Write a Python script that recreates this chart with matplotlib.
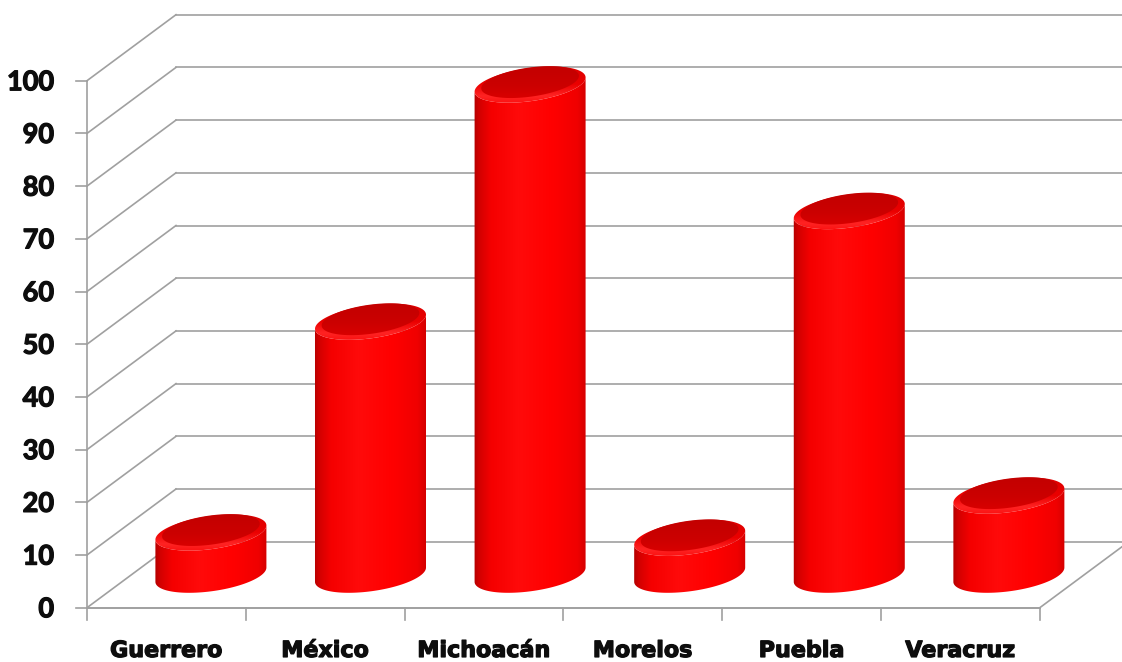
import numpy as np
import matplotlib
matplotlib.use("Agg")
import matplotlib.pyplot as plt
import matplotlib.patheffects as pe
from matplotlib.patches import Polygon
from matplotlib.colors import LinearSegmentedColormap

# data
states = ["Guerrero", "México", "Michoacán", "Morelos", "Puebla", "Veracruz"]
values = [8, 48, 93, 7, 69, 15]
y_ticks = [0, 10, 20, 30, 40, 50, 60, 70, 80, 90, 100]

# figure geometry (pixels), used to build the pseudo 3D frame
W, H = 1122, 662
PX_CAT = 158.8          # pixels per category
PX_VAL = 5.27           # pixels per value unit
AXIS_X = 87             # front value axis, pixels from left
ZERO_Y = 607.7          # value 0, pixels from top
DEPTH_X = 89 / PX_CAT   # depth offset of back wall, in data units
DEPTH_Y = 66 / PX_VAL

GRID = "#a0a0a0"
TEXT = "#0d0d0d"
bold_fx = [pe.withStroke(linewidth=0.9, foreground=TEXT)]

fig = plt.figure(figsize=(W / 100, H / 100), dpi=100)
ax = fig.add_axes([0, 0, 1, 1])
ax.axis("off")

x_left = -0.5 - AXIS_X / PX_CAT
x_right = -0.5 + (W - AXIS_X) / PX_CAT
y_bottom = -(H - ZERO_Y) / PX_VAL
y_top = ZERO_Y / PX_VAL

n = len(states)
x0, x1 = -0.5, n - 0.5

# 1. walls and gridlines
for v in y_ticks:
    ax.plot([x0, x0 + DEPTH_X], [v, v + DEPTH_Y], color=GRID, lw=1.2, zorder=1)
    ax.plot([x0 + DEPTH_X, x1 + DEPTH_X + 1], [v + DEPTH_Y, v + DEPTH_Y],
            color=GRID, lw=1.2, zorder=1)
    ax.plot([x0 - 11 / PX_CAT, x0], [v, v], color=GRID, lw=1.2, zorder=1)
    ax.text(x0 - 33 / PX_CAT, v - 0.3, str(v), ha="right", va="center",
            fontsize=19.5, fontweight="bold", family=["Lato", "DejaVu Sans"],
            color=TEXT, path_effects=bold_fx)

ax.plot([x0, x0], [0, y_ticks[-1]], color=GRID, lw=1.2, zorder=1)
ax.plot([x0, x1], [0, 0], color=GRID, lw=1.4, zorder=1)
ax.plot([x1, x1 + DEPTH_X * 1.5], [0, DEPTH_Y * 1.5], color=GRID, lw=1.2, zorder=1)
for k in range(n + 1):
    ax.plot([x0 + k, x0 + k], [0, -12 / PX_VAL], color=GRID, lw=1.2, zorder=1)

for i, name in enumerate(states):
    ax.text(i, -9.35, name, ha="center", va="baseline", fontsize=16,
            fontweight="bold", family="DejaVu Sans", color=TEXT,
            path_effects=bold_fx)

# 2. cylinders
side_cmap = LinearSegmentedColormap.from_list("side", [
    (0.0, (0.68, 0.0, 0.0)),
    (0.05, (0.82, 0.0, 0.0)),
    (0.16, (0.96, 0.0, 0.0)),
    (0.40, (1.0, 0.04, 0.04)),
    (0.70, (1.0, 0.0, 0.0)),
    (0.92, (0.94, 0.0, 0.0)),
    (1.0, (0.82, 0.0, 0.0)),
])
rim_cmap = LinearSegmentedColormap.from_list("rim", [
    (0.0, (0.98, 0.05, 0.05)),
    (0.22, (1.0, 0.14, 0.14)),
    (0.5, (0.92, 0.0, 0.0)),
    (1.0, (0.86, 0.0, 0.0)),
])
cap_cmap = LinearSegmentedColormap.from_list("cap", [
    (0.0, (0.88, 0.0, 0.0)),
    (0.45, (0.80, 0.0, 0.0)),
    (1.0, (0.76, 0.0, 0.0)),
])

A, B = 56.0, 16.5                     # ellipse half axes, pixels
THETA = np.deg2rad(8)
PHI = np.arctan2(B * np.sin(THETA), A * np.cos(THETA))


def ellipse_pts(cx, cy, t, scale=1.0, lift=0.0):
    a, b = A * scale, B * scale
    dx = a * np.cos(t) * np.cos(THETA) - b * np.sin(t) * np.sin(THETA)
    dy = a * np.cos(t) * np.sin(THETA) + b * np.sin(t) * np.cos(THETA) + lift
    return np.column_stack([cx + dx / PX_CAT, cy + dy / PX_VAL])


def gradient_fill(poly, cmap, extent, horizontal=True, z=3):
    ax.add_patch(poly)
    grad = np.linspace(0, 1, 256)
    img = grad[None, :] if horizontal else grad[:, None]
    im = ax.imshow(img, cmap=cmap, extent=extent, origin="lower",
                   aspect="auto", interpolation="bicubic", zorder=z)
    im.set_clip_path(poly)


front = np.linspace(np.pi - PHI, 2 * np.pi - PHI, 120)
full = np.linspace(0, 2 * np.pi, 200)

for i, v in enumerate(values):
    cx = i + 0.5 * DEPTH_X + 0.005 * i
    base = 0.5 * DEPTH_Y
    top = base + v

    bottom_arc = ellipse_pts(cx, base, front)
    top_arc = ellipse_pts(cx, top, front)[::-1]
    side = Polygon(np.vstack([bottom_arc, top_arc]), closed=True,
                   facecolor="none", edgecolor="none", zorder=3)
    rx = (A + 1) / PX_CAT
    gradient_fill(side, side_cmap,
                  [cx - rx, cx + rx, base - 25 / PX_VAL, top + 25 / PX_VAL])

    outer = Polygon(ellipse_pts(cx, top, full), closed=True,
                    facecolor="none", edgecolor="none", zorder=4)
    ry = (B + 4) / PX_VAL
    gradient_fill(outer, rim_cmap, [cx - rx, cx + rx, top - ry, top + ry],
                  horizontal=False, z=4)

    inner = Polygon(ellipse_pts(cx, top, full, scale=0.88, lift=2.5), closed=True,
                    facecolor="none", edgecolor="none", zorder=5)
    gradient_fill(inner, cap_cmap, [cx - rx, cx + rx, top - ry, top + ry],
                  horizontal=False, z=5)

ax.set_xlim(x_left, x_right)
ax.set_ylim(y_bottom, y_top)

fig.savefig("out.png", dpi=100, facecolor="white")
